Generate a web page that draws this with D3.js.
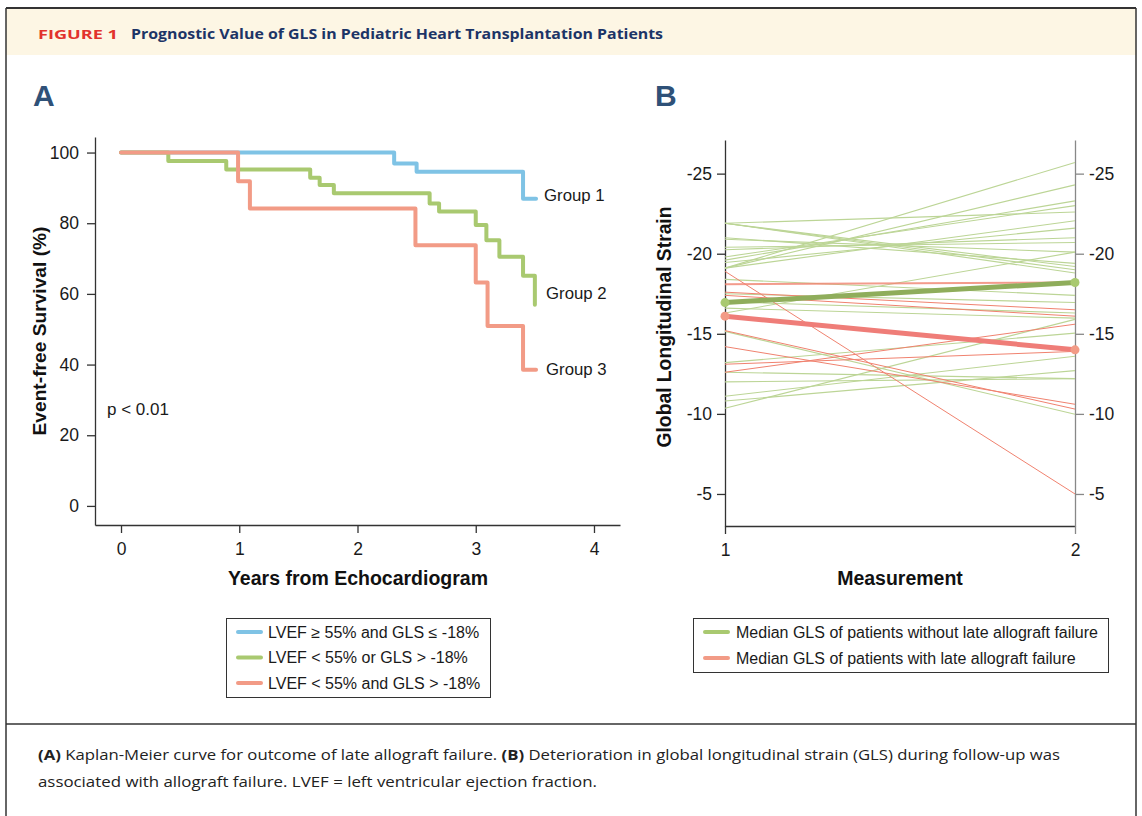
<!DOCTYPE html>
<html>
<head>
<meta charset="utf-8">
<script src="https://cdn.jsdelivr.net/npm/d3@7"></script>
<style>
  body { margin: 0; background: #fff; }
  svg { display: block; }
</style>
</head>
<body>
<div id="chart"></div>
<script>
// Panel A: Kaplan-Meier step curves (years, survival %)
const kmGroups = ['Group 1', 'Group 2', 'Group 3'];
const kmTimes1 = [0, 2.31, 2.50, 3.40, 3.51];
const kmSurv1 = [100, 96.9, 94.6, 86.9, 86.9];
const kmTimes2 = [0, 0.40, 0.89, 1.60, 1.68, 1.80, 2.61, 2.69, 3.00, 3.09, 3.20, 3.40, 3.50];
const kmSurv2 = [100, 97.6, 95.2, 92.9, 90.8, 88.5, 85.6, 83.3, 79.5, 75.2, 70.5, 65.1, 56.9];
const kmTimes3 = [0, 0.99, 1.09, 2.49, 3.00, 3.10, 3.40, 3.51];
const kmSurv3 = [100, 91.9, 84.2, 73.8, 63.2, 50.9, 38.5, 38.5];
const kmLegend = ['LVEF \u2265 55% and GLS \u2264 -18%', 'LVEF < 55% or GLS > -18%', 'LVEF < 55% and GLS > -18%'];
const kmTicksX = [0, 1, 2, 3, 4];
const kmTicksY = [0, 20, 40, 60, 80, 100];

// Panel B: GLS at measurement 1 and 2, per patient
const glsNoFailure1 = [-19.1, -19.1, -19.6, -19.8, -21.9, -21.9, -21.9, -21.9, -21.0, -20.9, -20.4, -20.25, -19.45, -19.1,
  -18.4, -17.5, -16.3, -16.6, -17.0, -15.15, -13.2, -12.0, -11.1, -10.8, -10.35, -12.6];
const glsNoFailure2 = [-25.7, -24.3, -23.3, -23.0, -22.6, -19.0, -18.8, -19.2, -19.4, -20.1, -20.7, -21.0, -21.6, -22.06,
  -17.4, -16.95, -20.1, -15.98, -16.3, -9.98, -15.04, -12.2, -13.6, -12.7, -15.9, -12.2];
const glsFailure1 = [-18.9, -18.1, -17.6, -17.4, -15.2, -14.2, -13.1, -12.6];
const glsFailure2 = [-5.0, -18.2, -16.5, -16.1, -10.3, -10.6, -13.9, -15.6];
const medianNoFailure = [-16.95, -18.2];
const medianFailure = [-16.1, -14.0];
const glsLegend = ['Median GLS of patients without late allograft failure', 'Median GLS of patients with late allograft failure'];
const glsTicksY = [-25, -20, -15, -10, -5];
const measurements = [1, 2];

const colors = { blue: '#7fc3e5', green: '#a9c970', red: '#f29b86' };
const FONT = '"Liberation Sans", Arial, sans-serif';
const plain = d => String(d);  // hyphen minus, no decimals

const svg = d3.select('#chart').append('svg')
  .attr('width', 1142).attr('height', 816);

// ---- frame and header ----
svg.append('rect').attr('x', 6).attr('y', 9).attr('width', 1130).attr('height', 46).attr('fill', '#fdf6e4');
svg.append('line').attr('x1', 6).attr('x2', 1136).attr('y1', 8).attr('y2', 8).attr('stroke', '#333').attr('stroke-width', 2);
svg.append('line').attr('x1', 6).attr('x2', 6).attr('y1', 8).attr('y2', 816).attr('stroke', '#333').attr('stroke-width', 1.5);
svg.append('line').attr('x1', 1136).attr('x2', 1136).attr('y1', 8).attr('y2', 816).attr('stroke', '#333').attr('stroke-width', 1.5);
svg.append('line').attr('x1', 6).attr('x2', 1136).attr('y1', 724).attr('y2', 724).attr('stroke', '#333').attr('stroke-width', 1.5);

svg.append('text').attr('x', 38).attr('y', 39)
  .attr('font-family', '"Open Sans", sans-serif').attr('font-weight', 700).attr('font-size', 13)
  .attr('fill', '#e2322c').attr('textLength', 80).attr('lengthAdjust', 'spacingAndGlyphs')
  .text('FIGURE 1');
svg.append('text').attr('x', 131).attr('y', 39)
  .attr('font-family', '"Open Sans", sans-serif').attr('font-weight', 700).attr('font-size', 14.5)
  .attr('fill', '#1c3466').attr('textLength', 532).attr('lengthAdjust', 'spacingAndGlyphs')
  .text('Prognostic Value of GLS in Pediatric Heart Transplantation Patients');

// caption
const cap1 = svg.append('text').attr('x', 38).attr('y', 760)
  .attr('font-family', '"Open Sans", sans-serif').attr('font-size', 14.5).attr('fill', '#222')
  .attr('textLength', 1022).attr('lengthAdjust', 'spacingAndGlyphs');
cap1.append('tspan').attr('font-weight', 700).text('(A)');
cap1.append('tspan').text(' Kaplan-Meier curve for outcome of late allograft failure. ');
cap1.append('tspan').attr('font-weight', 700).text('(B)');
cap1.append('tspan').text(' Deterioration in global longitudinal strain (GLS) during follow-up was');
svg.append('text').attr('x', 38).attr('y', 787)
  .attr('font-family', '"Open Sans", sans-serif').attr('font-size', 14.5).attr('fill', '#222')
  .attr('textLength', 559).attr('lengthAdjust', 'spacingAndGlyphs')
  .text('associated with allograft failure. LVEF = left ventricular ejection fraction.');

// panel letters
[['A', 33], ['B', 655]].forEach(([l, x]) => {
  svg.append('text').attr('x', x).attr('y', 106).attr('font-family', FONT).attr('font-weight', 700)
    .attr('font-size', 30).attr('fill', '#2f5178').text(l);
});

function styleAxis(g, color) {
  g.select('.domain').attr('stroke', color).attr('stroke-width', 1.3);
  g.selectAll('.tick line').attr('stroke', color).attr('stroke-width', 1.3);
  g.selectAll('.tick text').attr('font-family', FONT).attr('font-size', 17.5).attr('fill', '#1a1a1a');
}

// ---- Panel A ----
const xA = d3.scaleLinear().domain([-0.22, 4.22]).range([95, 620]);
const yA = d3.scaleLinear().domain([-5.4, 104.4]).range([525, 137]);

const gAx = svg.append('g').attr('transform', 'translate(0,525)')
  .call(d3.axisBottom(xA).tickValues(kmTicksX).tickFormat(plain).tickSize(8).tickSizeOuter(0).tickPadding(10));
styleAxis(gAx, '#333');
const gAy = svg.append('g').attr('transform', 'translate(95,0)')
  .call(d3.axisLeft(yA).tickValues(kmTicksY).tickFormat(plain).tickSize(8).tickSizeOuter(0).tickPadding(8));
styleAxis(gAy, '#333');

const stepLine = d3.line().x(d => xA(d[0])).y(d => yA(d[1])).curve(d3.curveStepAfter);
const kmSeries = [
  { times: kmTimes1, surv: kmSurv1, color: colors.blue },
  { times: kmTimes2, surv: kmSurv2, color: colors.green },
  { times: kmTimes3, surv: kmSurv3, color: colors.red }
];
kmSeries.forEach(s => {
  const pts = s.times.map((t, j) => [t, s.surv[j]]);
  svg.append('path').attr('d', stepLine(pts)).attr('fill', 'none')
    .attr('stroke', s.color).attr('stroke-width', 4).attr('stroke-linecap', 'round').attr('stroke-linejoin', 'round');
});

const groupLabelY = [201, 299, 375];
const groupLabelX = [544, 546, 546];
kmGroups.forEach((g, i) => {
  svg.append('text').attr('x', groupLabelX[i]).attr('y', groupLabelY[i])
    .attr('font-family', FONT).attr('font-size', 16.8).attr('fill', '#1a1a1a').text(g);
});
svg.append('text').attr('x', 107).attr('y', 415).attr('font-family', FONT).attr('font-size', 17)
  .attr('fill', '#1a1a1a').text('p < 0.01');

svg.append('text').attr('x', 358).attr('y', 585).attr('text-anchor', 'middle')
  .attr('font-family', FONT).attr('font-weight', 700).attr('font-size', 19.5).attr('fill', '#111')
  .text('Years from Echocardiogram');
svg.append('text').attr('transform', 'translate(46,331) rotate(-90)').attr('text-anchor', 'middle')
  .attr('font-family', FONT).attr('font-weight', 700).attr('font-size', 19.2).attr('fill', '#111')
  .text('Event-free Survival (%)');

// legend A
svg.append('rect').attr('x', 226.5).attr('y', 618.5).attr('width', 264).attr('height', 79)
  .attr('fill', '#fff').attr('stroke', '#333').attr('stroke-width', 1);
kmLegend.forEach((t, i) => {
  const y = 632 + i * 25.5;
  svg.append('line').attr('x1', 238).attr('x2', 261).attr('y1', y).attr('y2', y)
    .attr('stroke', kmSeries[i].color).attr('stroke-width', 4).attr('stroke-linecap', 'round');
  svg.append('text').attr('x', 268).attr('y', y + 5.5).attr('font-family', FONT).attr('font-size', 16)
    .attr('fill', '#1a1a1a').text(t);
});

// ---- Panel B ----
const xB = d3.scaleLinear().domain([1, 2]).range([725, 1075]);
const yB = d3.scaleLinear().domain([-27.1, -3]).range([140, 526]);

const gBx = svg.append('g').attr('transform', 'translate(0,526)')
  .call(d3.axisBottom(xB).tickValues(measurements).tickFormat(plain).tickSize(8).tickSizeOuter(0).tickPadding(10));
styleAxis(gBx, '#333');
gBx.selectAll('.tick line').filter(d => d === 2).attr('stroke', '#888');
const gBy = svg.append('g').attr('transform', 'translate(725,0)')
  .call(d3.axisLeft(yB).tickValues(glsTicksY).tickFormat(plain).tickSize(8).tickSizeOuter(0).tickPadding(5));
styleAxis(gBy, '#333');
const gBr = svg.append('g').attr('transform', 'translate(1075,0)')
  .call(d3.axisRight(yB).tickValues(glsTicksY).tickFormat(plain).tickSize(9).tickSizeOuter(0).tickPadding(5));
styleAxis(gBr, '#888');

const pair = d3.line().x(d => xB(d[0])).y(d => yB(d[1]));
glsNoFailure1.forEach((v, i) => {
  svg.append('path').attr('d', pair([[1, v], [2, glsNoFailure2[i]]]))
    .attr('fill', 'none').attr('stroke', '#bcd596').attr('stroke-width', 1.1);
});
glsFailure1.forEach((v, i) => {
  svg.append('path').attr('d', pair([[1, v], [2, glsFailure2[i]]]))
    .attr('fill', 'none').attr('stroke', '#f0826f').attr('stroke-width', i === 1 ? 2 : 1).attr('stroke-opacity', i === 1 ? 0.8 : 1);
});
[[medianNoFailure, '#8fad5b', colors.green], [medianFailure, '#ef7d78', colors.red]].forEach(([m, lc, dc]) => {
  svg.append('path').attr('d', pair([[1, m[0]], [2, m[1]]]))
    .attr('fill', 'none').attr('stroke', lc).attr('stroke-width', 5);
  measurements.forEach((x, j) => {
    svg.append('circle').attr('cx', xB(x)).attr('cy', yB(m[j])).attr('r', 4.5).attr('fill', dc);
  });
});

svg.append('text').attr('x', 900).attr('y', 585).attr('text-anchor', 'middle')
  .attr('font-family', FONT).attr('font-weight', 700).attr('font-size', 19.5).attr('fill', '#111')
  .text('Measurement');
svg.append('text').attr('transform', 'translate(671,327) rotate(-90)').attr('text-anchor', 'middle')
  .attr('font-family', FONT).attr('font-weight', 700).attr('font-size', 19.3).attr('fill', '#111')
  .text('Global Longitudinal Strain');

// legend B
svg.append('rect').attr('x', 693.5).attr('y', 618.5).attr('width', 415).attr('height', 54)
  .attr('fill', '#fff').attr('stroke', '#333').attr('stroke-width', 1);
glsLegend.forEach((t, i) => {
  const y = 632 + i * 26;
  svg.append('line').attr('x1', 705).attr('x2', 728).attr('y1', y).attr('y2', y)
    .attr('stroke', i === 0 ? colors.green : colors.red).attr('stroke-width', 4).attr('stroke-linecap', 'round');
  svg.append('text').attr('x', 736).attr('y', y + 5.5).attr('font-family', FONT).attr('font-size', 16)
    .attr('fill', '#1a1a1a').text(t);
});
</script>
</body>
</html>
